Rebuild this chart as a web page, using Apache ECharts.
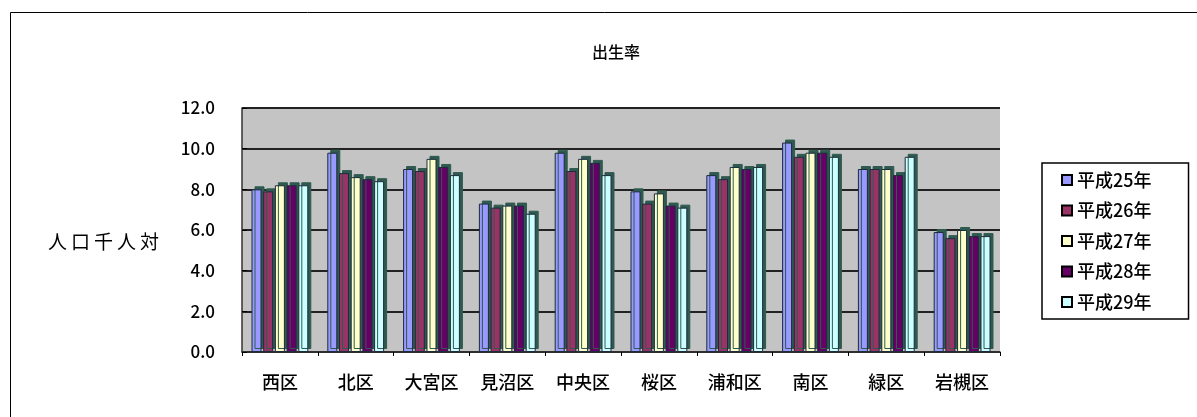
<!DOCTYPE html>
<html>
<head>
<meta charset="utf-8">
<script src="https://cdn.jsdelivr.net/npm/echarts@6/dist/echarts.min.js"></script>
<style>
  html, body { margin: 0; padding: 0; background: #fff; }
  #wrap { position: relative; width: 1197px; height: 417px; }
  #chart { width: 1197px; height: 417px; }
  #yname {
    position: absolute; left: 48px; top: 228px;
    font-family: "Noto Sans CJK JP", sans-serif; font-size: 19px; line-height: 26px;
    letter-spacing: 4px; color: #000; white-space: nowrap;
  }
</style>
</head>
<body>
<div id="wrap">
  <div id="chart"></div>
  <div id="yname">人口千人対</div>
</div>
<script>
var wards = ['西区', '北区', '大宮区', '見沼区', '中央区', '桜区', '浦和区', '南区', '緑区', '岩槻区']
var years = ['平成25年', '平成26年', '平成27年', '平成28年', '平成29年']
var h25 = [8.0, 9.8, 9.0, 7.3, 9.8, 7.9, 8.7, 10.3, 9.0, 5.9]
var h26 = [7.9, 8.8, 8.9, 7.1, 8.9, 7.3, 8.5, 9.6, 9.0, 5.6]
var h27 = [8.2, 8.6, 9.5, 7.2, 9.5, 7.8, 9.1, 9.8, 9.0, 6.0]
var h28 = [8.2, 8.5, 9.1, 7.2, 9.3, 7.2, 9.0, 9.8, 8.7, 5.7]
var h29 = [8.2, 8.4, 8.7, 6.8, 8.7, 7.1, 9.1, 9.6, 9.6, 5.7]
var yTicks = [0, 2, 4, 6, 8, 10, 12]

var colors = ['#9999ff', '#993366', '#ffffcc', '#660066', '#ccffff']
var font = '"Noto Sans CJK JP", "Noto Sans", sans-serif'

var chart = echarts.init(document.getElementById('chart'))

var makeSeries = function (name, data) {
  return {
    name: name,
    type: 'bar',
    data: data,
    barWidth: 10,
    barGap: '17%',
    itemStyle: {
      borderColor: '#1c2c3c',
      borderWidth: 1,
      shadowColor: '#2f5a50',
      shadowOffsetX: 3,
      shadowOffsetY: -3,
      shadowBlur: 0
    }
  }
}

var option = {
  animation: false,
  color: colors,
  textStyle: { fontFamily: font, color: '#000' },
  title: {
    text: '出生率',
    left: 587,
    top: 39,
    textStyle: { fontFamily: font, fontSize: 16, fontWeight: 500, color: '#000' }
  },
  legend: {
    orient: 'vertical',
    left: 1042,
    top: 163,
    padding: [8, 37, 8, 19],
    borderColor: '#000',
    borderWidth: 1.5,
    itemWidth: 10,
    itemHeight: 10,
    itemGap: 12.5,
    icon: 'rect',
    data: years,
    itemStyle: {
      borderColor: '#000',
      borderWidth: 2,
      shadowBlur: 0,
      shadowOffsetX: 0,
      shadowOffsetY: 0,
      shadowColor: 'rgba(0,0,0,0)'
    },
    textStyle: { fontFamily: font, fontSize: 18, fontWeight: 500, color: '#000', lineHeight: 18 }
  },
  grid: {
    left: 242,
    right: 197,
    top: 108,
    bottom: 65,
    show: true,
    backgroundColor: '#c4c4c4',
    borderWidth: 0
  },
  xAxis: {
    type: 'category',
    data: wards,
    axisLine: { lineStyle: { color: '#333', width: 1.5 } },
    axisTick: { show: true, length: 4, lineStyle: { color: '#000' } },
    axisLabel: { fontFamily: font, fontSize: 18, fontWeight: 500, color: '#000', margin: 21 }
  },
  yAxis: {
    type: 'value',
    min: yTicks[0],
    max: yTicks[yTicks.length - 1],
    interval: 2,
    axisLine: { show: true, lineStyle: { color: '#333', width: 1.5 } },
    axisTick: { show: true, inside: true, length: 5, lineStyle: { color: '#000' } },
    axisLabel: {
      fontFamily: font,
      fontSize: 17,
      fontWeight: 500,
      color: '#000',
      margin: 27,
      formatter: function (v) { return v.toFixed(1) }
    },
    splitLine: { show: true, lineStyle: { color: '#222', width: 2 } }
  },
  graphic: [
    {
      type: 'rect',
      left: 8,
      top: 10,
      shape: { width: 1200, height: 420 },
      style: { fill: 'none', stroke: '#000', lineWidth: 1 },
      silent: true,
      z: -10
    }
  ],
  series: [
    makeSeries(years[0], h25),
    makeSeries(years[1], h26),
    makeSeries(years[2], h27),
    makeSeries(years[3], h28),
    makeSeries(years[4], h29)
  ]
}

chart.setOption(option)
</script>
</body>
</html>
